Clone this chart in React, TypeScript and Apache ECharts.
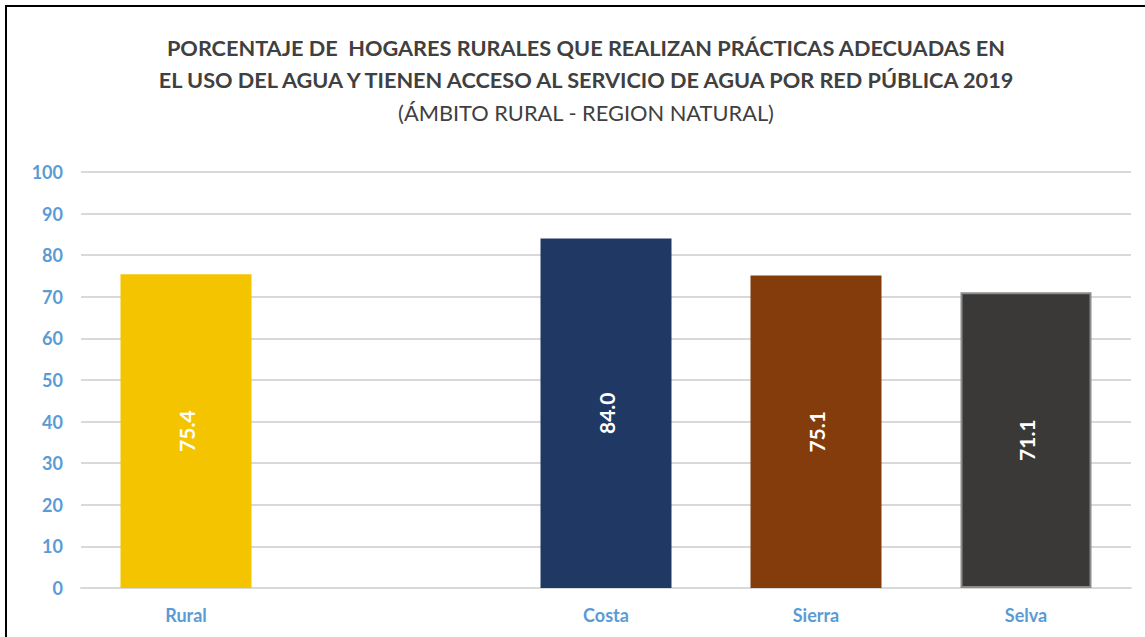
import React, { useEffect, useRef } from "react";
import * as echarts from "echarts";

const categories = ["Rural", "", "Costa", "Sierra", "Selva"];
const values: (number | null)[] = [75.4, null, 84.0, 75.1, 71.1];
const barColors = ["#F5C400", "#FFFFFF", "#203864", "#843C0C", "#3A3938"];
const yTicks = { min: 0, max: 100, interval: 10 };
const titleLine1 = "PORCENTAJE DE  HOGARES RURALES QUE REALIZAN PRÁCTICAS ADECUADAS EN";
const titleLine2 = "EL USO DEL AGUA Y TIENEN ACCESO AL SERVICIO DE AGUA POR RED PÚBLICA 2019";
const subtitle = "(ÁMBITO RURAL - REGION NATURAL)";

export default function App() {
  const ref = useRef<HTMLDivElement>(null);
  useEffect(() => {
    if (!ref.current) return;
    const chart = echarts.init(ref.current, null, { renderer: "svg" });
    const font = "Lato, 'Open Sans', sans-serif";
    chart.setOption({
      animation: false,
      backgroundColor: "#FFFFFF",
      title: {
        text: titleLine1 + "\n" + titleLine2,
        subtext: subtitle,
        left: 581,
        textAlign: "center",
        top: 27,
        itemGap: 3,
        textStyle: {
          fontFamily: font,
          fontWeight: "bold",
          fontSize: 21.7,
          color: "#404040",
          lineHeight: 32,
        },
        subtextStyle: {
          fontFamily: font,
          fontSize: 21.8,
          color: "#404040",
          lineHeight: 26,
        },
      },
      grid: { left: 81, right: 14, top: 172, bottom: 49, containLabel: false },
      xAxis: {
        type: "category",
        data: categories,
        axisLine: { show: true, lineStyle: { color: "#D9D9D9", width: 2 } },
        axisTick: { show: false },
        axisLabel: {
          color: "#5B9BD5",
          fontFamily: font,
          fontWeight: "bold",
          fontSize: 18,
          margin: 18,
        },
      },
      yAxis: {
        type: "value",
        min: yTicks.min,
        max: yTicks.max,
        interval: yTicks.interval,
        axisLine: { show: false },
        axisTick: { show: false },
        splitLine: { lineStyle: { color: "#D9D9D9", width: 2 } },
        axisLabel: {
          color: "#5B9BD5",
          fontFamily: font,
          fontWeight: "bold",
          fontSize: 18,
          margin: 18,
        },
      },
      series: [
        {
          type: "bar",
          barWidth: 131,
          data: values.map((v, i) =>
            v === null
              ? "-"
              : {
                  value: v,
                  itemStyle: {
                    color: barColors[i],
                    borderColor: i === 4 ? "#8C8C8C" : barColors[i],
                    borderWidth: i === 4 ? 2 : 0,
                  },
                }
          ),
          label: {
            show: true,
            position: "inside",
            rotate: 90,
            color: "#FFFFFF",
            fontFamily: font,
            fontWeight: "bold",
            fontSize: 21,
            formatter: (p: any) => Number(p.value).toFixed(1),
          },
        },
      ],
      graphic: [
        {
          type: "line",
          shape: { x1: 6, y1: 6, x2: 6, y2: 637 },
          style: { stroke: "#000000", lineWidth: 2 },
        },
        {
          type: "line",
          shape: { x1: 5, y1: 6, x2: 1145, y2: 6 },
          style: { stroke: "#000000", lineWidth: 2 },
        },
      ],
    });
    return () => chart.dispose();
  }, []);
  return (
    <div
      ref={ref}
      style={{ position: "fixed", left: 0, top: 0, width: 1145, height: 637 }}
    />
  );
}
